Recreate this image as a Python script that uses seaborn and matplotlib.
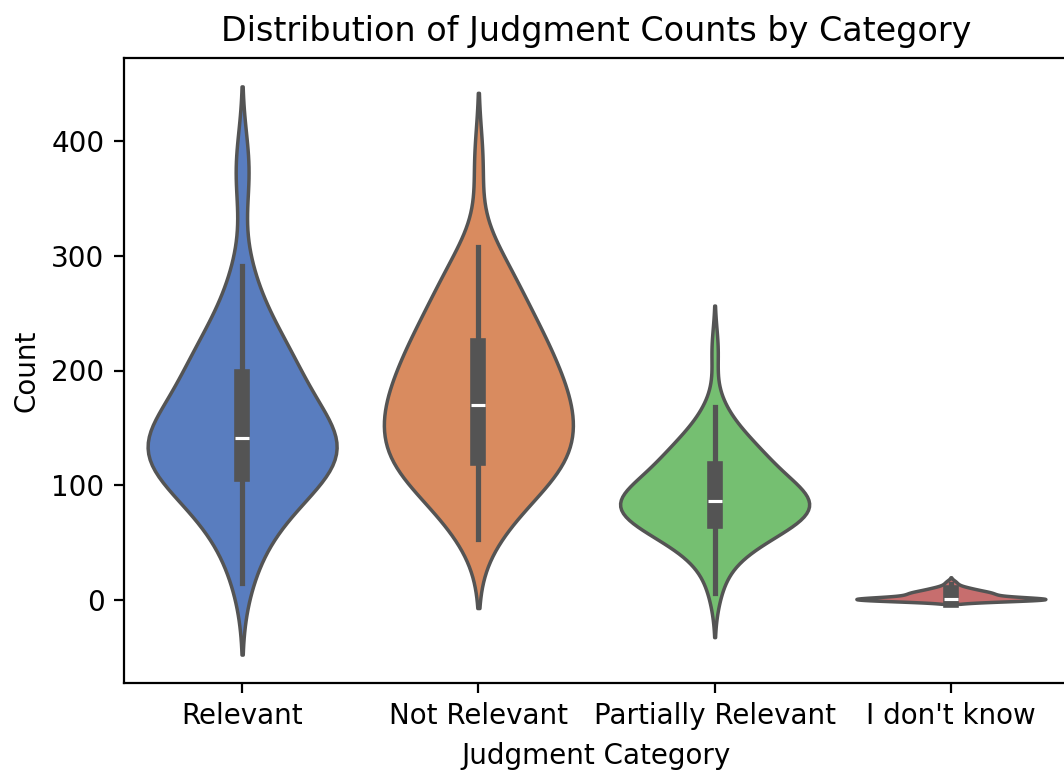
import numpy as np
import pandas as pd
import matplotlib
matplotlib.use("Agg")
import matplotlib.pyplot as plt
import seaborn as sns

categories = ["Relevant", "Not Relevant", "Partially Relevant", "I don't know"]

# judgment counts per topic
relevant = [15, 34, 48, 59, 67, 74, 80, 85, 89, 93, 97, 100, 103, 106, 108,
            110, 113, 116, 119, 122, 125, 127, 129, 131, 133, 135, 136, 138, 139, 140,
            142, 144, 147, 150, 153, 156, 160, 164, 168, 172, 176, 180, 184, 188, 193,
            197, 201, 205, 209, 213, 218, 223, 229, 236, 245, 256, 270, 291, 365, 385]
not_relevant = [53, 63, 72, 80, 87, 93, 98, 102, 106, 110, 113, 116, 118, 120, 122,
                124, 127, 131, 135, 139, 142, 145, 148, 151, 154, 157, 160, 163, 165, 168,
                171, 174, 177, 180, 184, 187, 190, 194, 198, 202, 206, 210, 213, 217, 220,
                224, 228, 233, 238, 243, 248, 254, 260, 266, 273, 281, 289, 298, 308, 382]
partially_relevant = [6, 24, 35, 42, 47, 51, 54, 57, 59, 61, 63, 64, 65, 66, 67,
                      69, 71, 73, 75, 77, 78, 79, 80, 81, 82, 83, 84, 85, 85, 86,
                      87, 88, 89, 90, 92, 93, 95, 97, 99, 101, 103, 105, 107, 110, 113,
                      117, 119, 121, 123, 125, 127, 129, 132, 135, 139, 144, 150, 158, 168, 218]
dont_know = [0, 0, 0, 0, 0, 0, 0, 0, 0, 0, 0, 0, 0, 0, 0,
             0, 0, 0, 0, 0, 0, 1, 1, 1, 1, 1, 1, 1, 1, 1,
             1, 2, 2, 3, 3, 3, 4, 4, 4, 5, 5, 5, 5, 6, 6,
             6, 6, 7, 7, 7, 8, 8, 9, 9, 10, 10, 11, 12, 14, 16]

# kde smoothing per category
bw_adjust = [1.0, 1.0, 1.2, 1.0]

df = pd.concat([
    pd.DataFrame({"Category": cat, "Count": vals})
    for cat, vals in zip(categories, [relevant, not_relevant, partially_relevant, dont_know])
], ignore_index=True)

W, H, DPI = 1064, 774, 200
fig = plt.figure(figsize=(W / DPI, H / DPI), dpi=DPI)
ax = fig.add_axes([124 / W, 91 / H, 945 / W, 625 / H])

for cat, bw in zip(categories, bw_adjust):
    sns.violinplot(data=df[df["Category"] == cat], x="Category", y="Count",
                   hue="Category", order=categories, hue_order=categories,
                   palette="muted", bw_adjust=bw, legend=False, ax=ax)

ax.set_title("Distribution of Judgment Counts by Category")
ax.set_xlabel("Judgment Category")
ax.set_ylabel("Count")

fig.savefig("out.png", dpi=DPI)
